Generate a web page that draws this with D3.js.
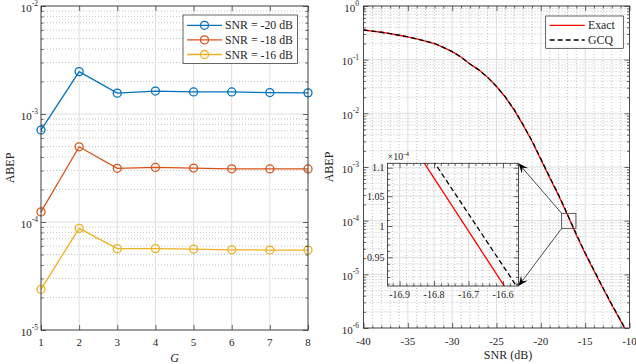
<!DOCTYPE html>
<html>
<head>
<meta charset="utf-8">
<script src="https://cdn.jsdelivr.net/npm/d3@7"></script>
<style>
  body { margin: 0; background: #fff; }
  svg text { font-family: "Liberation Serif", "Times New Roman", serif; fill: #262626; }
</style>
</head>
<body>
<svg id="chart" width="636" height="364"></svg>
<script>
// ---- left panel data (ABEP vs G) ----
const groupSizes = [1, 2, 3, 4, 5, 6, 7, 8];
const abepSnrM20 = [7.1e-4, 2.47e-3, 1.56e-3, 1.63e-3, 1.60e-3, 1.60e-3, 1.58e-3, 1.57e-3];
const abepSnrM18 = [1.24e-4, 4.97e-4, 3.14e-4, 3.20e-4, 3.16e-4, 3.11e-4, 3.10e-4, 3.10e-4];
const abepSnrM16 = [2.38e-5, 8.73e-5, 5.66e-5, 5.67e-5, 5.62e-5, 5.53e-5, 5.50e-5, 5.50e-5];
const leftNames = ['SNR = -20 dB', 'SNR = -18 dB', 'SNR = -16 dB'];
const leftColors = ['#0072BD', '#D95319', '#EDB120'];
const leftXTicks = [1, 2, 3, 4, 5, 6, 7, 8];
const leftYTicks = [1e-5, 1e-4, 1e-3, 1e-2];

// ---- right panel data (ABEP vs SNR) ----
const snrDb = [-40, -39, -38, -37, -36, -35, -34, -33, -32, -31, -30, -29, -28, -27, -26, -25,
               -24, -23, -22, -21, -20, -19, -18, -17, -16, -15, -14, -13, -12, -11, -10];
const abepExact = [0.357, 0.340, 0.324, 0.305, 0.285, 0.266, 0.243, 0.221, 0.200, 0.170, 0.141,
                   0.112, 0.0832, 0.0646, 0.0468, 0.0316, 0.0200, 0.0115, 6.03e-3, 3.02e-3,
                   1.38e-3, 6.31e-4, 2.95e-4, 1.286e-4, 5.41e-5, 2.45e-5, 1.15e-5, 5.5e-6,
                   2.69e-6, 1.35e-6, 6.76e-7];
const abepGcq = [0.357, 0.340, 0.324, 0.305, 0.285, 0.266, 0.243, 0.221, 0.200, 0.170, 0.141,
                 0.112, 0.0832, 0.0646, 0.0468, 0.0316, 0.0202, 0.0117, 6.15e-3, 3.09e-3,
                 1.42e-3, 6.50e-4, 3.04e-4, 1.316e-4, 5.63e-5, 2.52e-5, 1.19e-5, 5.67e-6,
                 2.77e-6, 1.39e-6, 6.96e-7];
const rightNames = ['Exact', 'GCQ'];
const rightXTicks = [-40, -35, -30, -25, -20, -15, -10];
const rightYTicks = [1e-6, 1e-5, 1e-4, 1e-3, 1e-2, 1e-1, 1];

// zoom window and inset
const zoomSnr = [-17.65, -16.04];
const zoomAbep = [7.2e-5, 1.37e-4];
const insetSnr = [-16.935, -16.555];
const insetAbep = [0.9066e-4, 1.108e-4];
const insetXTicks = [-16.9, -16.8, -16.7, -16.6];
const insetYTicks = [0.95e-4, 1e-4, 1.05e-4, 1.1e-4];
const insetYLabels = ['0.95', '1', '1.05', '1.1'];

const svg = d3.select('#chart');
const axisColor = '#262626';

const xL = d3.scaleLinear().domain([1, 8]).range([41, 308]);
const yL = d3.scaleLog().domain([1e-5, 1e-2]).range([330, 6]);
const xR = d3.scaleLinear().domain([-40, -10]).range([363.5, 629.5]);
const yR = d3.scaleLog().domain([1e-6, 1]).range([328, 6]);
const xI = d3.scaleLinear().domain(insetSnr).range([387.5, 518.5]);
const yI = d3.scaleLog().domain(insetAbep).range([286, 163.3]);

function minorOf(all, major) {
    return all.filter(v => !major.some(m => Math.abs(m - v) < Math.abs(m) * 1e-6 + 1e-12));
}

function drawGrid(g, x, y, xMajor, xMinor, yMajor, yMinor) {
    const [x0, x1] = x.range(), [yb, yt] = y.range();
    g.selectAll('.vminor').data(xMinor).join('line').attr('class', 'vminor')
        .attr('x1', x).attr('x2', x).attr('y1', yb).attr('y2', yt)
        .attr('stroke', '#9a9a9a').attr('stroke-width', 0.6).attr('stroke-dasharray', '1,2');
    g.selectAll('.hminor').data(yMinor).join('line').attr('class', 'hminor')
        .attr('x1', x0).attr('x2', x1).attr('y1', y).attr('y2', y)
        .attr('stroke', '#9a9a9a').attr('stroke-width', 0.6).attr('stroke-dasharray', '1,2');
    g.selectAll('.vmajor').data(xMajor).join('line').attr('class', 'vmajor')
        .attr('x1', x).attr('x2', x).attr('y1', yb).attr('y2', yt)
        .attr('stroke', '#dedede').attr('stroke-width', 1);
    g.selectAll('.hmajor').data(yMajor).join('line').attr('class', 'hmajor')
        .attr('x1', x0).attr('x2', x1).attr('y1', y).attr('y2', y)
        .attr('stroke', '#dedede').attr('stroke-width', 1);
}

function drawFrame(g, x, y, xMajor, xMinor, yMajor, yMinor) {
    const [x0, x1] = x.range(), [yb, yt] = y.range();
    const put = (axis, tx, ty, vals, size) => {
        const a = g.append('g').attr('transform', `translate(${tx},${ty})`)
            .call(axis.tickValues(vals).tickSize(size).tickSizeOuter(0).tickFormat(''));
        a.select('.domain').remove();
        a.selectAll('line').attr('stroke', axisColor).attr('stroke-width', 0.7);
    };
    put(d3.axisBottom(x), 0, yb, xMajor, -5);
    put(d3.axisTop(x), 0, yt, xMajor, -5);
    put(d3.axisBottom(x), 0, yb, xMinor, -2.5);
    put(d3.axisTop(x), 0, yt, xMinor, -2.5);
    put(d3.axisLeft(y), x0, 0, yMajor, -5);
    put(d3.axisRight(y), x1, 0, yMajor, -5);
    put(d3.axisLeft(y), x0, 0, yMinor, -2.5);
    put(d3.axisRight(y), x1, 0, yMinor, -2.5);
    g.append('rect').attr('x', x0).attr('y', yt).attr('width', x1 - x0).attr('height', yb - yt)
        .attr('fill', 'none').attr('stroke', axisColor).attr('stroke-width', 0.8);
}

function powerLabels(g, y, vals, xEnd) {
    const t = g.selectAll(null).data(vals).join('text')
        .attr('x', xEnd).attr('y', d => y(d) + 5.5)
        .attr('text-anchor', 'end').attr('font-size', 11);
    t.text('10');
    t.append('tspan').attr('dy', -5.5).attr('font-size', 7.5)
        .text(d => String(Math.round(Math.log10(d))));
}

// ================= left panel =================
const left = svg.append('g');
const leftYAll = yL.ticks();
drawGrid(left, xL, yL, leftXTicks, [], leftYTicks, minorOf(leftYAll, leftYTicks));

const leftSeries = [abepSnrM20, abepSnrM18, abepSnrM16];
const lineL = d3.line().x((d, i) => xL(groupSizes[i])).y(d => yL(d));
leftSeries.forEach((s, k) => {
    left.append('path').datum(s).attr('d', lineL)
        .attr('fill', 'none').attr('stroke', leftColors[k]).attr('stroke-width', 1.3);
    left.selectAll(null).data(s).join('circle')
        .attr('cx', (d, i) => xL(groupSizes[i])).attr('cy', d => yL(d)).attr('r', 4)
        .attr('fill', 'none').attr('stroke', leftColors[k]).attr('stroke-width', 1.3);
});
drawFrame(left, xL, yL, leftXTicks, [], leftYTicks, minorOf(leftYAll, leftYTicks));

left.selectAll(null).data(leftXTicks).join('text')
    .attr('x', xL).attr('y', 346).attr('text-anchor', 'middle').attr('font-size', 11)
    .text(d => d);
powerLabels(left, yL, leftYTicks, 38);
left.append('text').attr('x', 174.5).attr('y', 362).attr('text-anchor', 'middle')
    .attr('font-size', 12).attr('font-style', 'italic').text('G');
left.append('text').attr('transform', 'translate(14,168) rotate(-90)')
    .attr('text-anchor', 'middle').attr('font-size', 12).text('ABEP');

// legend
const legL = left.append('g');
legL.append('rect').attr('x', 183).attr('y', 15).attr('width', 114.5).attr('height', 48.5)
    .attr('fill', '#fff').attr('stroke', axisColor).attr('stroke-width', 0.7);
leftNames.forEach((name, k) => {
    const cy = 25.3 + k * 14.6;
    legL.append('line').attr('x1', 187).attr('x2', 222).attr('y1', cy).attr('y2', cy)
        .attr('stroke', leftColors[k]).attr('stroke-width', 1.3);
    legL.append('circle').attr('cx', 204.5).attr('cy', cy).attr('r', 4)
        .attr('fill', 'none').attr('stroke', leftColors[k]).attr('stroke-width', 1.3);
    legL.append('text').attr('x', 225).attr('y', cy + 4).attr('font-size', 11.8).text(name);
});

// ================= right panel =================
const right = svg.append('g');
const rightXAll = xR.ticks(30);
const rightYAll = yR.ticks();
drawGrid(right, xR, yR, rightXTicks, minorOf(rightXAll, rightXTicks),
    rightYTicks, minorOf(rightYAll, rightYTicks));

svg.append('clipPath').attr('id', 'clipR').append('rect')
    .attr('x', xR.range()[0]).attr('y', yR.range()[1])
    .attr('width', xR.range()[1] - xR.range()[0]).attr('height', yR.range()[0] - yR.range()[1]);
svg.append('clipPath').attr('id', 'clipI').append('rect')
    .attr('x', xI.range()[0]).attr('y', yI.range()[1])
    .attr('width', xI.range()[1] - xI.range()[0]).attr('height', yI.range()[0] - yI.range()[1]);

function drawCurves(g, x, y, clip) {
    const line = d3.line().x((d, i) => x(snrDb[i])).y(d => y(d));
    const c = g.append('g').attr('clip-path', `url(#${clip})`);
    c.append('path').datum(abepExact).attr('d', line)
        .attr('fill', 'none').attr('stroke', '#ff0000').attr('stroke-width', 1.3);
    c.append('path').datum(abepGcq).attr('d', line)
        .attr('fill', 'none').attr('stroke', '#000').attr('stroke-width', 1.3)
        .attr('stroke-dasharray', '5,3');
}
drawCurves(right, xR, yR, 'clipR');
drawFrame(right, xR, yR, rightXTicks, minorOf(rightXAll, rightXTicks),
    rightYTicks, minorOf(rightYAll, rightYTicks));

right.selectAll(null).data(rightXTicks).join('text')
    .attr('x', xR).attr('y', 345).attr('text-anchor', 'middle').attr('font-size', 11)
    .text(d => d);
powerLabels(right, yR, rightYTicks, 359);
right.append('text').attr('x', 508).attr('y', 359).attr('text-anchor', 'middle')
    .attr('font-size', 12).text('SNR (dB)');
right.append('text').attr('transform', 'translate(333,167) rotate(-90)')
    .attr('text-anchor', 'middle').attr('font-size', 12).text('ABEP');

// zoom rectangle
const zx0 = xR(zoomSnr[0]), zx1 = xR(zoomSnr[1]);
const zyTop = yR(zoomAbep[1]), zyBot = yR(zoomAbep[0]);
right.append('rect').attr('x', zx0).attr('y', zyTop).attr('width', zx1 - zx0)
    .attr('height', zyBot - zyTop).attr('fill', 'none').attr('stroke', '#333').attr('stroke-width', 0.8);

// inset
const inset = svg.append('g');
const ix0 = xI.range()[0], ix1 = xI.range()[1], iyb = yI.range()[0], iyt = yI.range()[1];
inset.append('rect').attr('x', ix0).attr('y', iyt).attr('width', ix1 - ix0)
    .attr('height', iyb - iyt).attr('fill', '#fff');
const insetXAll = xI.ticks(20);
const insetYAll = yI.ticks(20);
drawGrid(inset, xI, yI, insetXTicks, minorOf(insetXAll, insetXTicks),
    insetYTicks, minorOf(insetYAll, insetYTicks));
drawCurves(inset, xI, yI, 'clipI');
drawFrame(inset, xI, yI, insetXTicks, minorOf(insetXAll, insetXTicks),
    insetYTicks, minorOf(insetYAll, insetYTicks));
inset.selectAll(null).data(insetXTicks).join('text')
    .attr('x', xI).attr('y', 298).attr('text-anchor', 'middle').attr('font-size', 10)
    .text(d => d.toFixed(1));
inset.selectAll(null).data(insetYTicks).join('text')
    .attr('x', ix0 - 3).attr('y', d => yI(d) + 3.5).attr('text-anchor', 'end').attr('font-size', 10)
    .text((d, i) => insetYLabels[i]);
const mult = inset.append('text').attr('x', ix0).attr('y', 160).attr('font-size', 10);
mult.append('tspan').text('\u00d710');
mult.append('tspan').attr('dy', -4).attr('font-size', 7).text('-4');

// arrows from zoom window to inset corners
function arrow(g, from, to) {
    const dx = to[0] - from[0], dy = to[1] - from[1], len = Math.hypot(dx, dy);
    const ux = dx / len, uy = dy / len, nx = -uy, ny = ux, L = 10, W = 4.2;
    g.append('line').attr('x1', from[0]).attr('y1', from[1])
        .attr('x2', to[0] - ux * 6).attr('y2', to[1] - uy * 6)
        .attr('stroke', '#000').attr('stroke-width', 0.7);
    const pts = [to, [to[0] - ux * L + nx * W, to[1] - uy * L + ny * W],
        [to[0] - ux * L * 0.6, to[1] - uy * L * 0.6],
        [to[0] - ux * L - nx * W, to[1] - uy * L - ny * W]];
    g.append('path').attr('d', 'M' + pts.join('L') + 'Z').attr('fill', '#000');
}
const arrows = svg.append('g');
arrow(arrows, [zx0, zyTop], [ix1, iyt]);
arrow(arrows, [zx0, zyBot], [ix1, iyb]);

// right legend
const legR = svg.append('g');
legR.append('rect').attr('x', 545.7).attr('y', 16).attr('width', 77.6).attr('height', 32.3)
    .attr('fill', '#fff').attr('stroke', axisColor).attr('stroke-width', 0.7);
rightNames.forEach((name, k) => {
    const cy = 25.3 + k * 14.7;
    legR.append('line').attr('x1', 549.7).attr('x2', 584.7).attr('y1', cy).attr('y2', cy)
        .attr('stroke', k ? '#000' : '#ff0000').attr('stroke-width', 1.3)
        .attr('stroke-dasharray', k ? '5,3' : null);
    legR.append('text').attr('x', 588).attr('y', cy + 4).attr('font-size', 11.8).text(name);
});
</script>
</body>
</html>
